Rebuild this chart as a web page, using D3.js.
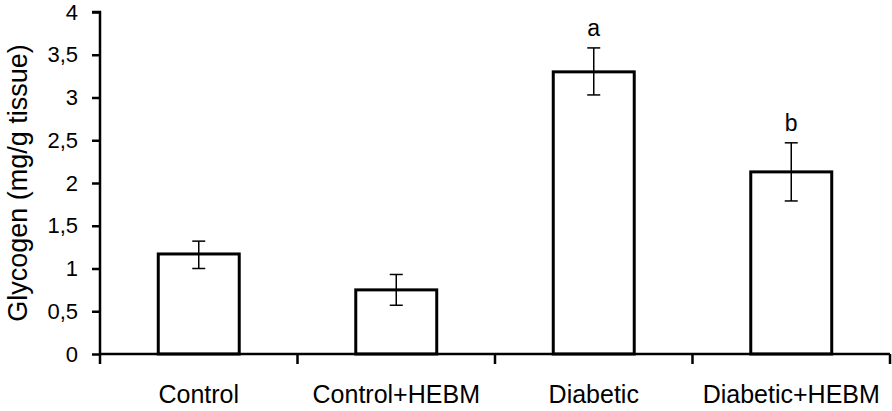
<!DOCTYPE html>
<html><head><meta charset="utf-8">
<script src="https://cdn.jsdelivr.net/npm/d3@7"></script>
<style>body{margin:0;background:#fff}svg{display:block}</style>
</head><body>
<svg id="c" width="892" height="411"></svg>
<script>
const categories = ["Control", "Control+HEBM", "Diabetic", "Diabetic+HEBM"];
const means = [1.17, 0.75, 3.30, 2.13];
const errLow = [1.00, 0.57, 3.03, 1.79];
const errHigh = [1.32, 0.93, 3.58, 2.47];
const sigLabels = ["", "", "a", "b"];
const yTicks = [0, 0.5, 1, 1.5, 2, 2.5, 3, 3.5, 4];
const yTitle = "Glycogen (mg/g tissue)";

const svg = d3.select("#c");
const m = {left: 100, right: 2, top: 12, bottom: 57};
const W = 892, H = 411;
const x = d3.scaleBand().domain(categories).range([m.left, W - m.right]).paddingInner(0.59).paddingOuter(0.295);
const xEdge = d3.scaleBand().domain(categories).range([m.left, W - m.right]);
const y = d3.scaleLinear().domain([0, 4]).range([H - m.bottom, m.top]);
const font = "Liberation Sans, Arial, sans-serif";

// bars
svg.selectAll("rect.bar").data(categories).join("rect")
  .attr("x", d => x(d)).attr("width", x.bandwidth())
  .attr("y", (d, i) => y(means[i])).attr("height", (d, i) => y(0) - y(means[i]))
  .attr("fill", "#fff").attr("stroke", "#000").attr("stroke-width", 3);

// error bars
const eg = svg.append("g").attr("stroke", "#000").attr("stroke-width", 1.5);
categories.forEach((c, i) => {
  const cx = x(c) + x.bandwidth() / 2;
  eg.append("line").attr("x1", cx).attr("x2", cx).attr("y1", y(errLow[i])).attr("y2", y(errHigh[i]));
  [errLow[i], errHigh[i]].forEach(v => {
    eg.append("line").attr("x1", cx - 6.5).attr("x2", cx + 6.5).attr("y1", y(v)).attr("y2", y(v));
  });
  if (sigLabels[i]) {
    svg.append("text").attr("x", cx).attr("y", y(errHigh[i]) - 12)
      .attr("text-anchor", "middle").attr("font-family", font).attr("font-size", 23)
      .text(sigLabels[i]);
  }
});

// y axis
const yAxis = d3.axisLeft(y).tickValues(yTicks).tickSize(8).tickPadding(14)
  .tickFormat(d => String(d).replace(".", ","));
const gy = svg.append("g").attr("transform", `translate(${m.left},0)`).call(yAxis);
gy.select(".domain").attr("stroke-width", 2.5).attr("d", `M-8,${y(4)}H0V${y(0)}`);
gy.selectAll(".tick line").attr("stroke-width", 2.5);
gy.selectAll("text").attr("font-family", font).attr("font-size", 22).attr("fill", "#000");

// x axis
const gx = svg.append("g").attr("transform", `translate(0,${y(0)})`);
gx.append("line").attr("x1", m.left).attr("x2", W - m.right).attr("stroke", "#000").attr("stroke-width", 2.5);
const edges = categories.map(c => xEdge(c)).concat([W - m.right]);
gx.selectAll("line.t").data(edges).join("line").attr("class", "t")
  .attr("x1", d => d).attr("x2", d => d).attr("y1", 0).attr("y2", 10)
  .attr("stroke", "#000").attr("stroke-width", 2.5);
gx.selectAll("text").data(categories).join("text")
  .attr("x", d => x(d) + x.bandwidth() / 2).attr("y", 49)
  .attr("text-anchor", "middle").attr("font-family", font).attr("font-size", 25)
  .text(d => d);

// y title
svg.append("text").attr("transform", `translate(27,${(y(0) + y(4)) / 2}) rotate(-90)`)
  .attr("text-anchor", "middle").attr("font-family", font).attr("font-size", 27)
  .text(yTitle);
</script>
</body></html>
